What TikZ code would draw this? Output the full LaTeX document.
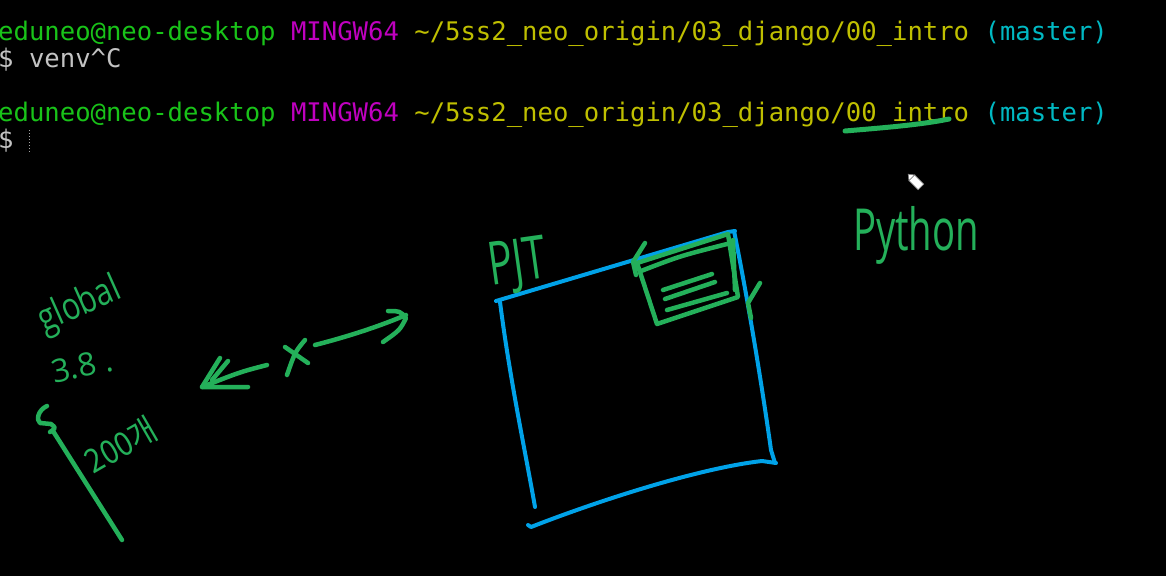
\documentclass[tikz,border=0pt]{standalone}
\usepackage{fontspec}
\newfontfamily\termfont{DejaVu Sans Mono}
\newfontfamily\handfont{Open Sans}
\newfontfamily\handkr{Noto Sans CJK KR}
\definecolor{tgreen}{RGB}{25,195,25}
\definecolor{tmag}{RGB}{191,0,191}
\definecolor{tyel}{RGB}{191,191,0}
\definecolor{tcyan}{RGB}{0,185,195}
\definecolor{twhite}{RGB}{195,195,195}
\definecolor{inkgreen}{RGB}{36,176,90}
\definecolor{inkblue}{RGB}{0,162,232}
\tikzset{
  termline/.style={anchor=base west, inner sep=0pt, font=\termfont\fontsize{25.6}{27}\selectfont},
  ink/.style={draw=inkgreen, line width=4.5pt, line cap=round, line join=round},
  blueink/.style={draw=inkblue, line width=4pt, line cap=round, line join=round},
  handtext/.style={inner sep=0pt, text=inkgreen},
}
\begin{document}
\begin{tikzpicture}[x=1pt,y=-1pt]
\fill[black] (0,0) rectangle (1166,576);
\useasboundingbox (0,0) rectangle (1166,576);

% terminal text
\node[termline] (l1) at (-2,40) {\textcolor{tgreen}{eduneo@neo-desktop} \textcolor{tmag}{MINGW64} \textcolor{tyel}{\textasciitilde/5ss2\_neo\_origin/03\_django/00\_intro} \textcolor{tcyan}{(master)}};
\node[termline] (l2) at (-2,67) {\textcolor{twhite}{\$ venv\textasciicircum C}};
\node[termline] (l4) at (-2,121) {\textcolor{tgreen}{eduneo@neo-desktop} \textcolor{tmag}{MINGW64} \textcolor{tyel}{\textasciitilde/5ss2\_neo\_origin/03\_django/00\_intro} \textcolor{tcyan}{(master)}};
\node[termline] (l5) at (-2,148) {\textcolor{twhite}{\$}};
\coordinate (cur1) at (29,130);
\coordinate (cur2) at (29,153);
\draw[gray!70, line width=1pt, dotted] (cur1) -- (cur2);

% underline of 00_intro
\draw[ink, line width=5pt] (845,131) .. controls (880,128) and (920,125) .. (949,119);

% blue project box
\draw[blueink] (496,301) -- (728,232) -- (735,231);
\draw[blueink] (734,231) .. controls (750,310) and (764,400) .. (771,450) -- (775,463);
\draw[blueink] (776,463) -- (762,461) .. controls (700,468) and (600,500) .. (531,527) -- (528,525);
\draw[blueink] (500,302) .. controls (510,380) and (525,450) .. (535,507);

% green document box
\draw[ink] (637,263) -- (728,234) -- (738,297) -- (657,324) -- cycle;
\draw[ink] (641,271) .. controls (680,256) .. (727,244);
\draw[ink] (733,240) -- (735,290);
\draw[ink] (645,243) -- (633,262) -- (636,275);
\draw[ink] (760,283) -- (748,303) -- (751,318);
\draw[ink] (663,290) -- (712,274);
\draw[ink] (665,299) -- (715,282);
\draw[ink] (667,310) -- (727,293);

% labels
\node[handtext, rotate=8] (pjt) at (518,266) {\handfont\fontsize{60}{62}\selectfont\scalebox{0.68}[1]{PJT}};
\node[handtext, anchor=base] (python) at (916,250) {\handfont\fontsize{58}{60}\selectfont\scalebox{0.66}[1]{Python}};

% pencil cursor
\coordinate (pen) at (916,182);
\begin{scope}[rotate around={-45:(pen)}]
\fill[white, draw=gray, line width=0.6pt] (910,178) rectangle (923,186);
\fill[white, draw=gray, line width=0.6pt] (910,178) -- (905,182) -- (910,186) -- cycle;
\end{scope}

% left annotations
\node[handtext, rotate=24] (glob) at (80,306) {\handfont\fontsize{38}{40}\selectfont\scalebox{0.8}[1]{global}};
\node[handtext, rotate=12] (ver) at (82,366) {\handfont\fontsize{32}{34}\selectfont 3.8 .};
\node[handtext, rotate=30] (cnt) at (121,445) {\handkr\fontsize{33}{35}\selectfont\scalebox{0.9}[1]{200개}};
\draw[ink] (47,406) .. controls (38,410) and (36,420) .. (40,423) -- (51,424) .. controls (56,428) .. (50,432);
\coordinate (ls) at (53,431);
\coordinate (le) at (122,540);
\draw[ink] (ls) -- (le);

% left arrow
\coordinate (la1) at (267,365);
\coordinate (la2) at (202,387);
\draw[ink] (la1) .. controls (240,372) .. (la2);
\draw[ink] (220,358) -- (la2) -- (248,387);
\draw[ink] (228,361) -- (212,380);

% cross
\draw[ink] (285,347) -- (308,363);
\draw[ink] (305,340) .. controls (295,352) .. (287,375);

% right arrow
\coordinate (ra1) at (315,345);
\coordinate (ra2) at (406,315);
\draw[ink] (ra1) .. controls (350,336) and (380,326) .. (ra2);
\draw[ink] (388,311) .. controls (400,311) .. (406,318) .. controls (400,330) .. (383,342);
\end{tikzpicture}
\end{document}
